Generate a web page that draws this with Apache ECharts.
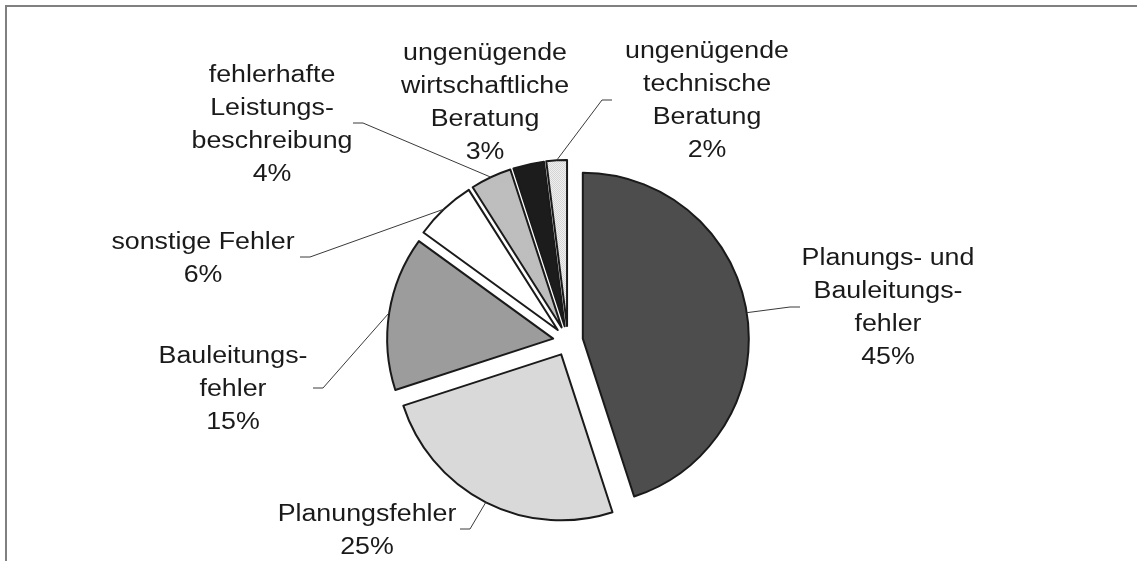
<!DOCTYPE html>
<html>
<head>
<meta charset="utf-8">
<script src="https://cdn.jsdelivr.net/npm/echarts@6/dist/echarts.min.js"></script>
<style>
  html, body { margin: 0; padding: 0; background: #fff; }
  #chart { width: 1137px; height: 561px; }
</style>
</head>
<body>
<div id="chart"></div>
<script>
// Kategorien und Anteile (%)
const categories = [
  'Planungs- und\nBauleitungs-\nfehler',
  'Planungsfehler',
  'Bauleitungs-\nfehler',
  'sonstige Fehler',
  'fehlerhafte\nLeistungs-\nbeschreibung',
  'ungenügende\nwirtschaftliche\nBeratung',
  'ungenügende\ntechnische\nBeratung'
]
const shares = [45, 25, 15, 6, 4, 3, 2]

// Beschriftungen sind (wie im Original) manuell platziert:
// Textmitte und Punkt, an dem die Führungslinie am Text endet (null = keine Linie)
const labelCenter = [[888, 308], [367, 531], [233, 390], [203, 259], [272, 125], [485, 103], [707, 101]]
const lineEnd = [[800, 307], [460, 529], [313, 388], [300, 257], [353, 123], null, [612, 100]]

const OFFSET = 15

// kleines Punktmuster für die schraffierten Segmente
const dotPattern = (bg, fg) => {
  const c = document.createElement('canvas')
  c.width = 2
  c.height = 2
  const g = c.getContext('2d')
  g.fillStyle = bg
  g.fillRect(0, 0, 2, 2)
  g.fillStyle = fg
  g.fillRect(0, 0, 1, 1)
  g.fillRect(1, 1, 1, 1)
  return { image: c, repeat: 'repeat' }
}

const colors = [
  '#4d4d4d',                          // Planungs- und Bauleitungsfehler
  '#d9d9d9',                          // Planungsfehler
  '#9c9c9c',                          // Bauleitungsfehler
  '#ffffff',                          // sonstige Fehler
  dotPattern('#d8d8d8', '#a4a4a4'),   // fehlerhafte Leistungsbeschreibung
  '#1c1c1c',                          // wirtschaftliche Beratung
  dotPattern('#f4f4f4', '#d0d0d0')    // technische Beratung
]

const chart = echarts.init(document.getElementById('chart'))

chart.setOption({
  backgroundColor: '#ffffff',
  animation: false,
  series: [
    {
      type: 'pie',
      center: [568, 341],
      radius: 166,
      startAngle: 90,
      clockwise: true,
      selectedMode: 'multiple',
      selectedOffset: OFFSET,
      emphasis: { disabled: true },
      itemStyle: {
        borderColor: '#1a1a1a',
        borderWidth: 2
      },
      label: { show: false },
      labelLine: { show: false },
      data: categories.map((name, i) => ({
        name,
        value: shares[i],
        selected: true,
        itemStyle: { color: colors[i] }
      }))
    }
  ]
})

// Führungslinien vom Segmentrand (Layout der Bibliothek) zur Beschriftung
const data = chart.getModel().getSeriesByIndex(0).getData()
const graphics = [
  { type: 'line', shape: { x1: 6, y1: 6, x2: 1137, y2: 6 }, style: { stroke: '#808080', lineWidth: 2 } },
  { type: 'line', shape: { x1: 6, y1: 5, x2: 6, y2: 561 }, style: { stroke: '#808080', lineWidth: 2 } }
]

shares.forEach((v, i) => {
  const lay = data.getItemLayout(i)
  const mid = (lay.startAngle + lay.endAngle) / 2
  const dx = Math.cos(mid)
  const dy = Math.sin(mid)
  const ax = lay.cx + dx * (OFFSET + lay.r)
  const ay = lay.cy + dy * (OFFSET + lay.r)
  const end = lineEnd[i]
  if (end) {
    const side = end[0] < ax ? 1 : -1
    graphics.push({
      type: 'polyline',
      shape: { points: [[ax, ay], [end[0] + side * 10, end[1]], end] },
      style: { stroke: '#3a3a3a', lineWidth: 1, fill: null },
      z: 5
    })
  }
  graphics.push({
    type: 'text',
    x: labelCenter[i][0],
    y: labelCenter[i][1],
    scaleX: 1.14,
    style: {
      text: `${categories[i]}\n${v}%`,
      fontFamily: 'Liberation Sans',
      fontSize: 23.5,
      lineHeight: 33,
      fill: '#1a1a1a',
      align: 'center',
      verticalAlign: 'middle'
    },
    z: 6
  })
})

chart.setOption({ graphic: graphics })
</script>
</body>
</html>
